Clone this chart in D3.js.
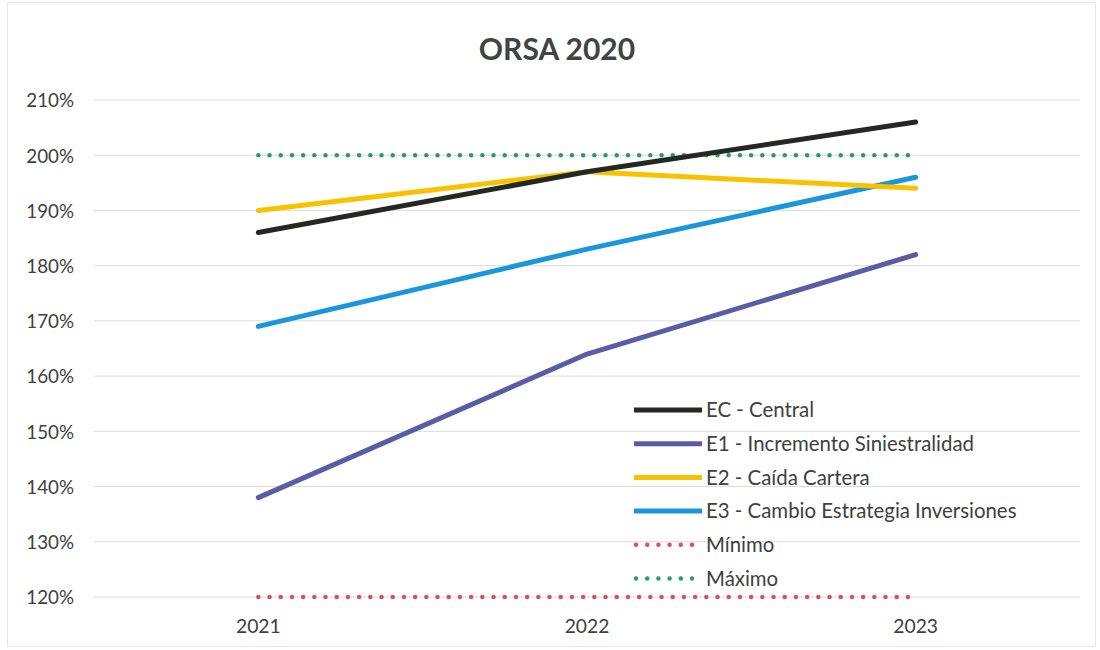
<!DOCTYPE html>
<html>
<head>
<meta charset="utf-8">
<script src="https://cdn.jsdelivr.net/npm/d3@7"></script>
<style>
  html, body { margin: 0; padding: 0; background: #fff; }
  svg { display: block; }
</style>
</head>
<body>
<svg id="chart" width="1100" height="650"></svg>
<script>
// Solvency ratio projections per scenario
const years = ["2021", "2022", "2023"];
const ecCentral = [186, 197, 206];
const e1Siniestralidad = [138, 164, 182];
const e2Cartera = [190, 197, 194];
const e3Inversiones = [169, 183, 196];
const minimo = [120, 120, 120];
const maximo = [200, 200, 200];
const yTicks = [120, 130, 140, 150, 160, 170, 180, 190, 200, 210];

const series = [
  { name: "EC - Central", values: ecCentral, color: "#232823", dotted: false },
  { name: "E1 - Incremento Siniestralidad", values: e1Siniestralidad, color: "#5a5da6", dotted: false },
  { name: "E2 - Caída Cartera", values: e2Cartera, color: "#f7c300", dotted: false },
  { name: "E3 - Cambio Estrategia Inversiones", values: e3Inversiones, color: "#1b96db", dotted: false },
  { name: "Mínimo", values: minimo, color: "#dc4d67", dotted: true },
  { name: "Máximo", values: maximo, color: "#2a9a66", dotted: true }
];

const svg = d3.select("#chart");
const font = "Lato, 'Open Sans', sans-serif";

// Outer chart frame
svg.append("rect")
  .attr("x", 7.5).attr("y", 2.5).attr("width", 1088).attr("height", 644)
  .attr("fill", "#fff").attr("stroke", "#e6e6e6").attr("stroke-width", 1);

const plot = { left: 94, right: 1080, top: 100, bottom: 597 };

const x = d3.scaleBand().domain(years).range([plot.left, plot.right]);
const y = d3.scaleLinear().domain([120, 210]).range([plot.bottom, plot.top]);
const cx = d => x(d) + x.bandwidth() / 2;

// Title
svg.append("text")
  .attr("x", 557).attr("y", 60)
  .attr("text-anchor", "middle")
  .attr("font-family", font).attr("font-weight", "bold")
  .attr("font-size", 30).attr("fill", "#3f4543")
  .text("ORSA 2020");

// Horizontal gridlines
svg.append("g")
  .selectAll("line")
  .data(yTicks)
  .join("line")
  .attr("x1", plot.left).attr("x2", plot.right)
  .attr("y1", d => y(d)).attr("y2", d => y(d))
  .attr("stroke", "#dcdcdc").attr("stroke-width", 1);

// Y axis labels
const yAxis = d3.axisLeft(y).tickValues(yTicks).tickSize(0).tickPadding(0)
  .tickFormat(d => d + "%");
const gy = svg.append("g").attr("transform", `translate(${plot.left - 20},0)`).call(yAxis);
gy.select(".domain").remove();
gy.selectAll("text")
  .attr("font-family", font).attr("font-size", 18.8).attr("fill", "#404040")
  .attr("dy", "0.36em");

// X axis labels
const xAxis = d3.axisBottom(x).tickSize(0).tickPadding(0);
const gx = svg.append("g").attr("transform", `translate(0,${plot.bottom + 22})`).call(xAxis);
gx.select(".domain").remove();
gx.selectAll("text")
  .attr("font-family", font).attr("font-size", 19.3).attr("fill", "#404040")
  .attr("dy", "0.7em");

// Scenario lines
const line = d3.line().x((d, i) => cx(years[i])).y(d => y(d));
const styleLine = (sel, s) => {
  sel.attr("fill", "none").attr("stroke", s.color);
  if (s.dotted) {
    sel.attr("stroke-width", 4.5).attr("stroke-linecap", "round").attr("stroke-dasharray", "0 11.2");
  } else {
    sel.attr("stroke-width", 5).attr("stroke-linecap", "round").attr("stroke-linejoin", "round");
  }
};

// Draw order: dotted limits first, then scenarios
const drawOrder = [series[4], series[5], series[3], series[1], series[2], series[0]];
drawOrder.forEach(s => {
  svg.append("path").datum(s.values).attr("d", line).call(styleLine, s);
});

// Legend
const legend = svg.append("g").attr("transform", "translate(634,410)");
series.forEach((s, i) => {
  const g = legend.append("g").attr("transform", `translate(0,${i * 33.7})`);
  const seg = g.append("line").attr("x1", 2).attr("x2", 66).attr("y1", 0).attr("y2", 0);
  styleLine(seg, s);
  if (!s.dotted) seg.attr("stroke-linecap", "butt").attr("x1", 0).attr("x2", 68);
  g.append("text")
    .attr("x", 72).attr("y", 0).attr("dy", "0.35em")
    .attr("font-family", font).attr("font-size", 20.4).attr("fill", "#404040")
    .text(s.name);
});
</script>
</body>
</html>
